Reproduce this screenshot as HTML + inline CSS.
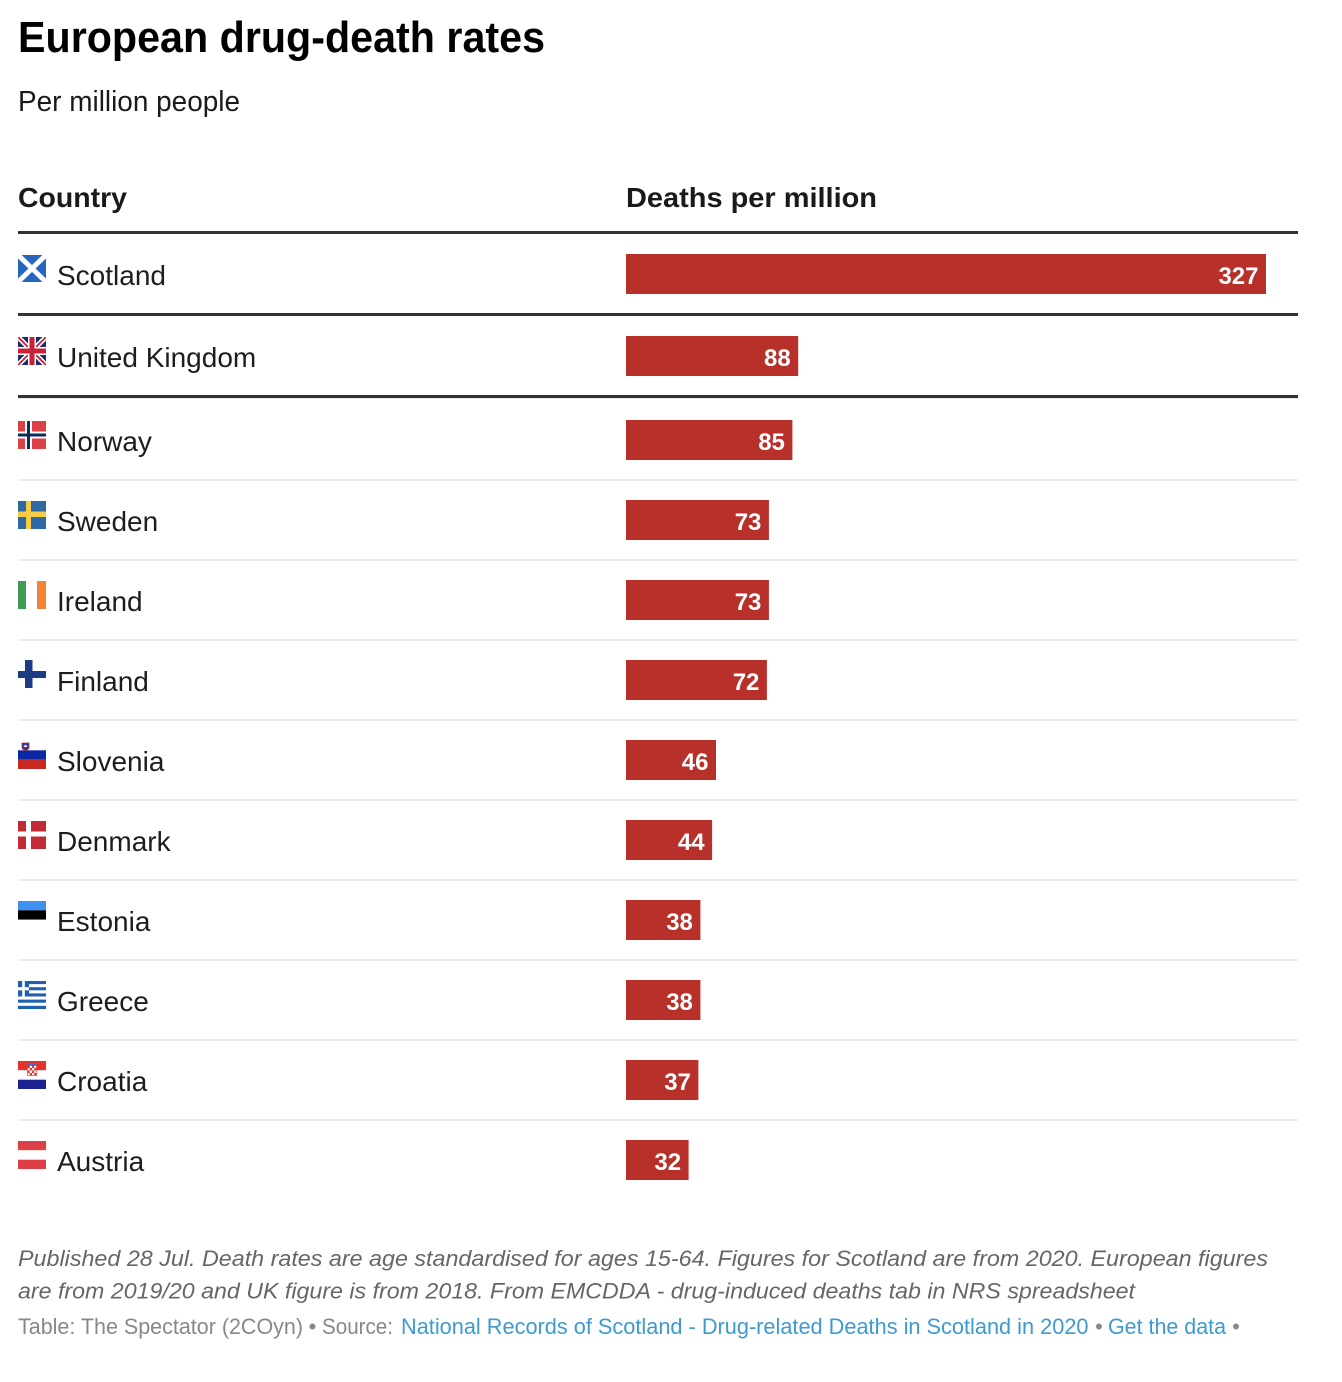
<!DOCTYPE html>
<html>
<head>
<meta charset="utf-8">
<style>
html,body{margin:0;padding:0;background:#fff;}
svg{display:block;}
text{font-family:"Liberation Sans",Arial,sans-serif;}
.lab{font-size:28px;fill:#1d1d1d;}
.num{font-size:24px;font-weight:bold;fill:#fff;text-anchor:end;}
.note{font-size:22px;font-style:italic;fill:#666;}
.src{font-size:22px;fill:#888;}
.lnk{font-size:22px;fill:#3e9ad0;}
</style>
</head>
<body>
<svg width="1342" height="1382" viewBox="0 0 1342 1382" xmlns="http://www.w3.org/2000/svg">
<rect width="1342" height="1382" fill="#fff"/>
<defs>
<clipPath id="ukc"><rect width="28" height="28"/></clipPath>
</defs>

<!-- Title -->
<text x="18" y="52" font-size="44" font-weight="bold" fill="#000" textLength="527" lengthAdjust="spacingAndGlyphs">European drug-death rates</text>
<text x="18" y="111" font-size="29" fill="#1a1a1a" textLength="222" lengthAdjust="spacingAndGlyphs">Per million people</text>

<!-- Headers -->
<text x="18" y="207" font-size="28" font-weight="bold" fill="#1a1a1a" textLength="109" lengthAdjust="spacingAndGlyphs">Country</text>
<text x="626" y="207" font-size="28" font-weight="bold" fill="#1a1a1a" textLength="251" lengthAdjust="spacingAndGlyphs">Deaths per million</text>

<!-- Lines -->
<rect x="18" y="231" width="1280" height="3" fill="#333"/>
<rect x="18" y="313" width="1280" height="3" fill="#333"/>
<rect x="18" y="395" width="1280" height="3" fill="#333"/>
<rect x="18" y="398" width="1280" height="1" fill="#ececec"/>
<rect x="18" y="479" width="1280" height="2" fill="#ececec"/>
<rect x="18" y="559" width="1280" height="2" fill="#ececec"/>
<rect x="18" y="639" width="1280" height="2" fill="#ececec"/>
<rect x="18" y="719" width="1280" height="2" fill="#ececec"/>
<rect x="18" y="799" width="1280" height="2" fill="#ececec"/>
<rect x="18" y="879" width="1280" height="2" fill="#ececec"/>
<rect x="18" y="959" width="1280" height="2" fill="#ececec"/>
<rect x="18" y="1039" width="1280" height="2" fill="#ececec"/>
<rect x="18" y="1119" width="1280" height="2" fill="#ececec"/>

<!-- Bars -->
<g fill="#b7312a">
<rect x="626" y="254" width="640" height="40"/>
<rect x="626" y="336" width="172.2" height="40"/>
<rect x="626" y="420" width="166.4" height="40"/>
<rect x="626" y="500" width="142.9" height="40"/>
<rect x="626" y="580" width="142.9" height="40"/>
<rect x="626" y="660" width="140.9" height="40"/>
<rect x="626" y="740" width="90" height="40"/>
<rect x="626" y="820" width="86.1" height="40"/>
<rect x="626" y="900" width="74.4" height="40"/>
<rect x="626" y="980" width="74.4" height="40"/>
<rect x="626" y="1060" width="72.4" height="40"/>
<rect x="626" y="1140" width="62.6" height="40"/>
</g>
<g class="num">
<text class="num" x="1258.5" y="284">327</text>
<text class="num" x="790.7" y="366">88</text>
<text class="num" x="784.9" y="450">85</text>
<text class="num" x="761.4" y="530">73</text>
<text class="num" x="761.4" y="610">73</text>
<text class="num" x="759.4" y="690">72</text>
<text class="num" x="708.5" y="770">46</text>
<text class="num" x="704.6" y="850">44</text>
<text class="num" x="692.9" y="930">38</text>
<text class="num" x="692.9" y="1010">38</text>
<text class="num" x="690.9" y="1090">37</text>
<text class="num" x="681.1" y="1170">32</text>
</g>

<!-- Labels -->
<text class="lab" x="57" y="285">Scotland</text>
<text class="lab" x="57" y="367">United Kingdom</text>
<text class="lab" x="57" y="451">Norway</text>
<text class="lab" x="57" y="531">Sweden</text>
<text class="lab" x="57" y="611">Ireland</text>
<text class="lab" x="57" y="691">Finland</text>
<text class="lab" x="57" y="771">Slovenia</text>
<text class="lab" x="57" y="851">Denmark</text>
<text class="lab" x="57" y="931">Estonia</text>
<text class="lab" x="57" y="1011">Greece</text>
<text class="lab" x="57" y="1091">Croatia</text>
<text class="lab" x="57" y="1171">Austria</text>

<!-- Flags -->
<!-- Scotland -->
<g transform="translate(18,255)">
<rect width="28" height="27" fill="#2766bf"/>
<path d="M0,0 L28,27 M28,0 L0,27" stroke="#fff" stroke-width="5"/>
</g>
<!-- UK -->
<g transform="translate(18,337)" clip-path="url(#ukc)">
<rect width="28" height="28" fill="#1f2b6e"/>
<path d="M0,0 L28,28 M28,0 L0,28" stroke="#fff" stroke-width="5"/>
<path d="M0,0 L28,28 M28,0 L0,28" stroke="#c8213a" stroke-width="1.8"/>
<rect x="10" y="0" width="8" height="28" fill="#fff"/>
<rect x="0" y="10" width="28" height="8" fill="#fff"/>
<rect x="11.5" y="0" width="5" height="28" fill="#c8213a"/>
<rect x="0" y="11.5" width="28" height="5" fill="#c8213a"/>
</g>
<!-- Norway -->
<g transform="translate(18,421)">
<rect width="28" height="28" fill="#dc4146"/>
<rect x="7" y="0" width="7" height="28" fill="#fff"/>
<rect x="0" y="10.5" width="28" height="7" fill="#fff"/>
<rect x="9" y="0" width="3" height="28" fill="#0c2a5e"/>
<rect x="0" y="12.5" width="28" height="3" fill="#0c2a5e"/>
</g>
<!-- Sweden -->
<g transform="translate(18,501)">
<rect width="28" height="28" fill="#2f69a3"/>
<rect x="8" y="0" width="5" height="28" fill="#f7cb46"/>
<rect x="0" y="10.5" width="28" height="5.5" fill="#f7cb46"/>
</g>
<!-- Ireland -->
<g transform="translate(18,581)">
<rect width="8" height="28" fill="#3f9a53"/>
<rect x="8" width="11" height="28" fill="#fff"/>
<rect x="19" width="9" height="28" fill="#f28433"/>
</g>
<!-- Finland -->
<g transform="translate(18,660)">
<rect width="28" height="28" fill="#fff"/>
<rect x="7" y="0" width="7.5" height="28" fill="#1b3c82"/>
<rect x="0" y="11" width="28" height="7" fill="#1b3c82"/>
</g>
<!-- Slovenia -->
<g transform="translate(18,741)">
<rect width="28" height="9.3" fill="#fff"/>
<rect y="9.3" width="28" height="9.4" fill="#0a28a6"/>
<rect y="18.7" width="28" height="9.3" fill="#c92a1f"/>
<path d="M4,2 h7 v5 q-3.5,5 -7,0 z" fill="#1f3fb0" stroke="#c92a1f" stroke-width="0.8"/>
<path d="M5.5,6 l2,-2.5 l2,2.5 z" fill="#fff"/>
</g>
<!-- Denmark -->
<g transform="translate(18,821)">
<rect width="28" height="28" fill="#c02b35"/>
<rect x="8" y="0" width="5" height="28" fill="#fff"/>
<rect x="0" y="10.5" width="28" height="5" fill="#fff"/>
</g>
<!-- Estonia -->
<g transform="translate(18,901)">
<rect width="28" height="9.3" fill="#4090ef"/>
<rect y="9.3" width="28" height="9.4" fill="#000"/>
<rect y="18.7" width="28" height="9.3" fill="#fff"/>
</g>
<!-- Greece -->
<g transform="translate(18,981)">
<rect width="28" height="28" fill="#fff"/>
<g fill="#2160b0">
<rect y="0" width="28" height="3.1"/>
<rect y="6.2" width="28" height="3.1"/>
<rect y="12.4" width="28" height="3.1"/>
<rect y="18.6" width="28" height="3.1"/>
<rect y="24.8" width="28" height="3.2"/>
<rect x="0" y="0" width="11" height="15.5"/>
</g>
<rect x="4.2" y="0" width="2.6" height="15.5" fill="#fff"/>
<rect x="0" y="6.2" width="11" height="3.1" fill="#fff"/>
</g>
<!-- Croatia -->
<g transform="translate(18,1061)">
<rect width="28" height="9.3" fill="#e5322b"/>
<rect y="9.3" width="28" height="9.4" fill="#fff"/>
<rect y="18.7" width="28" height="9.3" fill="#1b2193"/>
<rect x="9.5" y="4.5" width="9" height="10" fill="#fff" stroke="#e5322b" stroke-width="0.6"/>
<g fill="#e5322b">
<rect x="9.5" y="4.5" width="2.25" height="2.5"/>
<rect x="14" y="4.5" width="2.25" height="2.5"/>
<rect x="11.75" y="7" width="2.25" height="2.5"/>
<rect x="16.25" y="7" width="2.25" height="2.5"/>
<rect x="9.5" y="9.5" width="2.25" height="2.5"/>
<rect x="14" y="9.5" width="2.25" height="2.5"/>
<rect x="11.75" y="12" width="2.25" height="2.5"/>
<rect x="16.25" y="12" width="2.25" height="2.5"/>
</g>
<rect x="9.5" y="2.5" width="9" height="2" fill="#3a6bc8"/>
</g>
<!-- Austria -->
<g transform="translate(18,1141)">
<rect width="28" height="9.3" fill="#dc4045"/>
<rect y="9.3" width="28" height="9.4" fill="#fff"/>
<rect y="18.7" width="28" height="9.3" fill="#dc4045"/>
</g>

<!-- Footer -->
<text class="note" x="18" y="1266" textLength="1250" lengthAdjust="spacingAndGlyphs">Published 28 Jul. Death rates are age standardised for ages 15-64. Figures for Scotland are from 2020. European figures</text>
<text class="note" x="18" y="1298.5" textLength="1117" lengthAdjust="spacingAndGlyphs">are from 2019/20 and UK figure is from 2018. From EMCDDA - drug-induced deaths tab in NRS spreadsheet</text>

<text class="src" x="18" y="1334" textLength="285" lengthAdjust="spacingAndGlyphs">Table: The Spectator (2COyn)</text>
<text class="src" x="312.5" y="1334" text-anchor="middle">•</text>
<text class="src" x="322" y="1334" textLength="71" lengthAdjust="spacingAndGlyphs">Source:</text>
<text class="lnk" x="401" y="1334" textLength="687.5" lengthAdjust="spacingAndGlyphs">National Records of Scotland - Drug-related Deaths in Scotland in 2020</text>
<text class="src" x="1099" y="1334" text-anchor="middle">•</text>
<text class="lnk" x="1108" y="1334" textLength="118" lengthAdjust="spacingAndGlyphs">Get the data</text>
<text class="src" x="1236" y="1334" text-anchor="middle">•</text>
</svg>
</body>
</html>
